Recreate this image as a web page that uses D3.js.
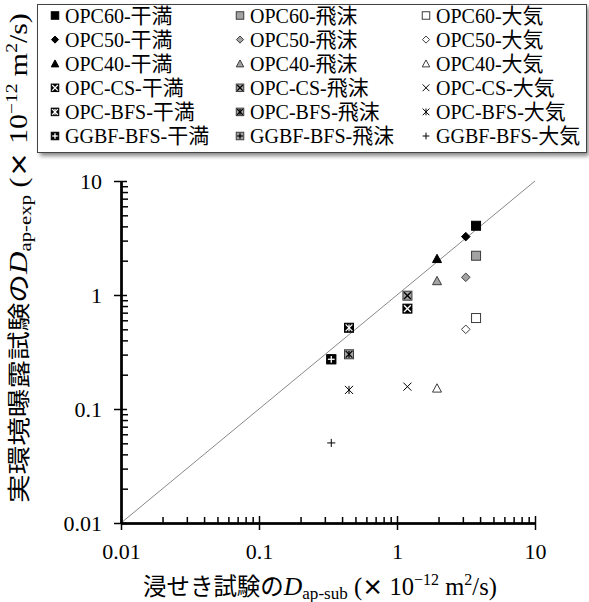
<!DOCTYPE html>
<html>
<head>
<meta charset="utf-8">
<script src="https://cdn.jsdelivr.net/npm/d3@7"></script>
<style>
  body { margin: 0; background: #fff; }
  svg { display: block; }
</style>
</head>
<body>
<div id="chart"></div>
<script>
// Data
const mixes = ["OPC60", "OPC50", "OPC40", "OPC-CS", "OPC-BFS", "GGBF-BFS"];
const environments = ["干満", "飛沫", "大気"];
// D_ap-sub (immersion test), one value per mix
const xSub = [3.74, 3.15, 1.95, 1.19, 0.449, 0.334];
// D_ap-exp (field exposure), per mix, one array per environment
const yTidal  = [4.05, 3.25, 2.08, 0.759, 0.516, 0.273];
const ySplash = [2.21, 1.43, 1.33, 0.986, 0.302, 0.273];
const yAtmos  = [0.628, 0.50, 0.152, 0.157, 0.147, 0.0504];
const tickValues = [0.01, 0.1, 1, 10];
const tickLabels = ["0.01", "0.1", "1", "10"];

const serif = "'Liberation Serif', 'Times New Roman', serif";
const gothic = "'Noto Sans CJK JP', 'Noto Sans', sans-serif";

const width = 589, height = 602;
const svg = d3.select("#chart").append("svg")
    .attr("width", width)
    .attr("height", height);

svg.append("rect").attr("width", width).attr("height", height).attr("fill", "#fff");

const x = d3.scaleLog().domain([0.01, 10]).range([121, 535]);
const y = d3.scaleLog().domain([0.01, 10]).range([523, 181]);

// minor ticks 2..9 in each decade
const minor = [];
tickValues.slice(0, -1).forEach(d => { for (let k = 2; k < 10; k++) minor.push(d * k); });

// 1:1 line
svg.append("line")
    .attr("x1", x(0.01)).attr("y1", y(0.01))
    .attr("x2", x(10)).attr("y2", y(10))
    .attr("stroke", "#7a7a7a")
    .attr("stroke-width", 0.9);

function styleAxis(g) {
    g.selectAll(".domain").attr("stroke", "#000").attr("stroke-width", 2);
    g.selectAll(".tick line").attr("stroke", "#000").attr("stroke-width", 1.5);
    g.selectAll(".tick text")
        .attr("font-family", serif)
        .attr("font-size", 22)
        .attr("fill", "#000");
}

const fmt = d => tickLabels[tickValues.indexOf(d)];

// x axis
const gx = svg.append("g").attr("transform", `translate(0,${y(0.01)})`);
gx.append("g").call(d3.axisBottom(x).tickValues(minor).tickSize(-6).tickSizeOuter(0).tickFormat(""));
gx.append("g").call(d3.axisBottom(x).tickValues(tickValues).tickSize(-7).tickSizeOuter(0).tickFormat(""));
gx.append("g").call(d3.axisBottom(x).tickValues(tickValues).tickSize(7).tickSizeOuter(0).tickPadding(13).tickFormat(fmt));
gx.selectAll("g").each(function() { styleAxis(d3.select(this)); });

// y axis
const gy = svg.append("g").attr("transform", `translate(${x(0.01)},0)`);
gy.append("g").call(d3.axisLeft(y).tickValues(minor).tickSize(-7).tickSizeOuter(0).tickFormat(""));
gy.append("g").call(d3.axisLeft(y).tickValues(tickValues).tickSize(-6).tickSizeOuter(0).tickFormat(""));
gy.append("g").call(d3.axisLeft(y).tickValues(tickValues).tickSize(7).tickSizeOuter(0).tickPadding(12).tickFormat(fmt));
gy.selectAll("g").each(function() { styleAxis(d3.select(this)); });

// markers
function marker(g, mix, env, s) {
    const h = s / 2;
    const fill = ["#000", "#a3a3a3", "#fff"][env];
    const stroke = env === 0 ? "#000" : "#3c3c3c";
    if (mix === 0) {
        g.append("rect").attr("x", -h).attr("y", -h).attr("width", s).attr("height", s)
            .attr("fill", fill).attr("stroke", stroke).attr("stroke-width", 1);
    } else if (mix === 1) {
        const r = h * 0.95;
        g.append("path").attr("d", `M0,${-r}L${r},0L0,${r}L${-r},0Z`)
            .attr("fill", fill).attr("stroke", stroke).attr("stroke-width", 1);
    } else if (mix === 2) {
        g.append("path").attr("d", `M0,${-h}L${h},${h * 0.85}L${-h},${h * 0.85}Z`)
            .attr("fill", fill).attr("stroke", stroke).attr("stroke-width", 1);
    } else {
        let col = "#000", r = h * 0.9;
        if (env < 2) {
            g.append("rect").attr("x", -h).attr("y", -h).attr("width", s).attr("height", s)
                .attr("fill", fill).attr("stroke", stroke).attr("stroke-width", 1);
            col = env === 0 ? "#fff" : "#000";
            r = h * 0.75;
        }
        const lines = [];
        if (mix === 3 || mix === 4) lines.push([-r, -r, r, r], [-r, r, r, -r]);
        if (mix === 4) lines.push([0, -r, 0, r]);
        if (mix === 5) lines.push([-r, 0, r, 0], [0, -r, 0, r]);
        lines.forEach(l => g.append("line")
            .attr("x1", l[0]).attr("y1", l[1]).attr("x2", l[2]).attr("y2", l[3])
            .attr("stroke", col).attr("stroke-width", env < 2 ? 1.3 : 1));
    }
}

const ySeries = [yTidal, ySplash, yAtmos];
const points = svg.append("g");
// draw environment series in reverse so tidal markers sit on top
[2, 1, 0].forEach(env => {
    mixes.forEach((m, i) => {
        const g = points.append("g")
            .attr("transform", `translate(${x(xSub[i])},${y(ySeries[env][i])})`);
        marker(g, i, env, 9);
    });
});

// axis titles, fitted to the length they take in the reference
function titleParts(t, cjk, sub) {
    t.append("tspan").attr("font-family", gothic).attr("font-size", 22).text(cjk);
    t.append("tspan").attr("font-family", serif).attr("font-style", "italic").attr("font-size", 24).text("D");
    t.append("tspan").attr("font-family", serif).attr("font-size", 16).attr("baseline-shift", -4).text(sub);
    t.append("tspan").attr("font-family", serif).attr("font-size", 23).text(" (");
    t.append("tspan").attr("font-family", gothic).attr("font-weight", "bold").attr("font-size", 20).text("×");
    t.append("tspan").attr("font-family", serif).attr("font-size", 23).text(" 10");
    t.append("tspan").attr("font-family", serif).attr("font-size", 15).attr("baseline-shift", 9).text("−12");
    t.append("tspan").attr("font-family", serif).attr("font-size", 23).text(" m");
    t.append("tspan").attr("font-family", serif).attr("font-size", 15).attr("baseline-shift", 9).text("2");
    t.append("tspan").attr("font-family", serif).attr("font-size", 23).text("/s)");
}

const xtG = svg.append("g");
const xt = xtG.append("text").attr("x", 0).attr("y", 0).attr("fill", "#000");
titleParts(xt, "浸せき試験の", "ap-sub");
const xs = 354 / xt.node().getComputedTextLength();
xtG.attr("transform", `translate(143,595) scale(${xs})`);

const ytG = svg.append("g");
const yt = ytG.append("text").attr("x", 0).attr("y", 0).attr("fill", "#000");
titleParts(yt, "実環境曝露試験の", "ap-exp");
const ys = 490 / yt.node().getComputedTextLength();
const yc = 1.05;
ytG.attr("transform", `translate(${18.5 + 0.36 * 22 * yc},503) rotate(-90) scale(${ys},${yc})`);

// legend
const defs = svg.append("defs");
defs.append("filter").attr("id", "shadow").attr("x", "-10%").attr("y", "-10%").attr("width", "120%").attr("height", "130%")
    .append("feGaussianBlur").attr("stdDeviation", 2);

const lg = svg.append("g");
lg.append("rect").attr("x", 40).attr("y", 7).attr("width", 549).attr("height", 149)
    .attr("fill", "#888").attr("filter", "url(#shadow)");
lg.append("rect").attr("x", 37.5).attr("y", 4.5).attr("width", 549).attr("height", 148)
    .attr("fill", "#fff").attr("stroke", "#444").attr("stroke-width", 1);

const colX = [55, 240, 426];
mixes.forEach((m, i) => {
    environments.forEach((e, j) => {
        const cy = 15.5 + i * 24.1;
        const g = lg.append("g").attr("transform", `translate(${colX[j]},${cy})`);
        marker(g, i, j, 7.5);
        const t = lg.append("text")
            .attr("x", colX[j] + 10).attr("y", cy + 7)
            .attr("font-family", serif)
            .attr("font-size", 20)
            .attr("fill", "#000");
        t.append("tspan").attr("font-family", serif).text(m + "-");
        t.append("tspan").attr("font-family", gothic).attr("font-size", 21).text(e);
    });
});
</script>
</body>
</html>
